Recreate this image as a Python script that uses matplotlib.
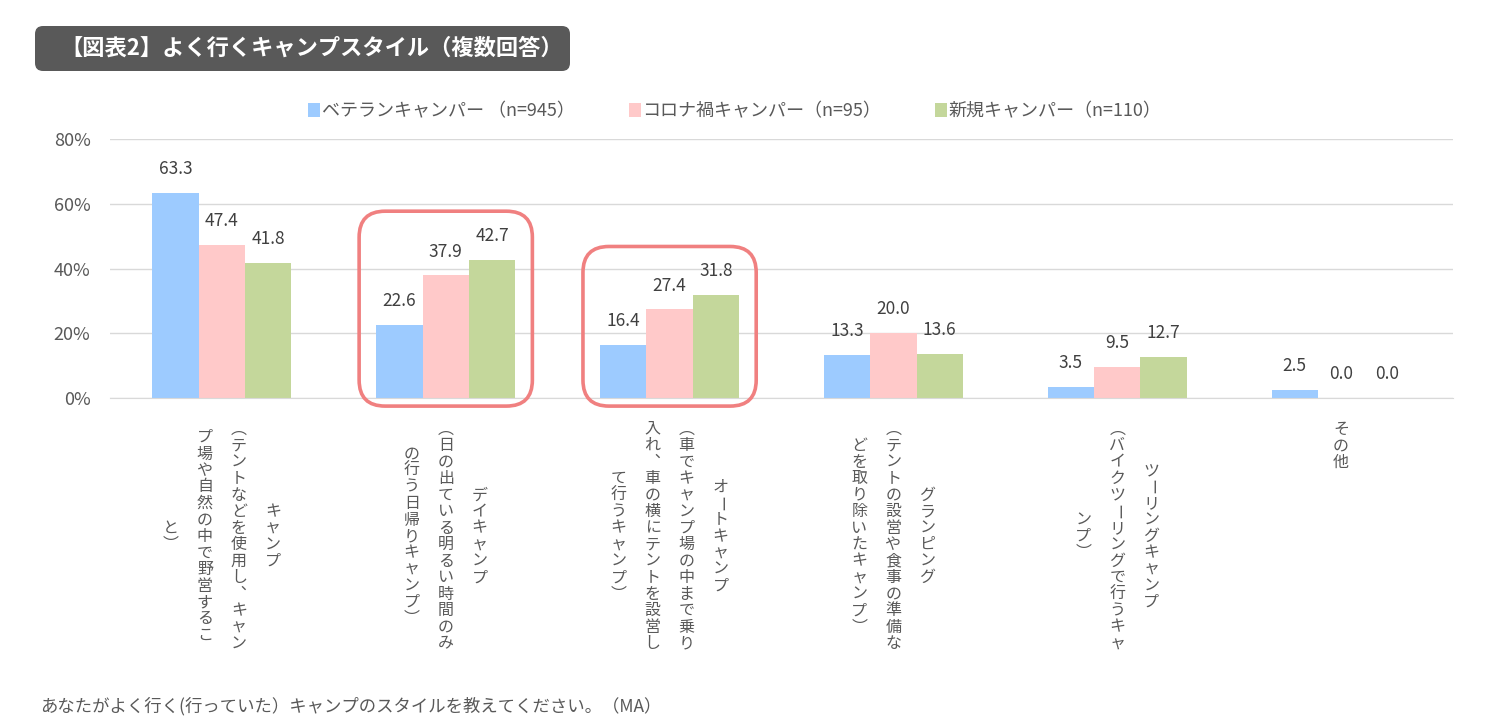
import numpy as np
import matplotlib.pyplot as plt
from matplotlib.patches import FancyBboxPatch
from matplotlib.transforms import IdentityTransform

plt.rcParams['font.family'] = ['Noto Sans CJK JP', 'DejaVu Sans']

# データ
categories = ['キャンプ', 'デイキャンプ', 'オートキャンプ', 'グランピング', 'ツーリングキャンプ', 'その他']
label_cols = [
    ['キャンプ', '（テントなどを使用し、キャン', 'プ場や自然の中で野営するこ', 'と）'],
    ['デイキャンプ', '（日の出ている明るい時間のみ', 'の行う日帰りキャンプ）'],
    ['オートキャンプ', '（車でキャンプ場の中まで乗り', '入れ、車の横にテントを設営し', 'て行うキャンプ）'],
    ['グランピング', '（テントの設営や食事の準備な', 'どを取り除いたキャンプ）'],
    ['ツーリングキャンプ', '（バイクツーリングで行うキャ', 'ンプ）'],
    ['その他'],
]
series_names = ['ベテランキャンパー （n=945）', 'コロナ禍キャンパー（n=95）', '新規キャンパー（n=110）']
veteran = [63.3, 22.6, 16.4, 13.3, 3.5, 2.5]
corona = [47.4, 37.9, 27.4, 20.0, 9.5, 0.0]
new = [41.8, 42.7, 31.8, 13.6, 12.7, 0.0]
highlight = [1, 2]
colors = ['#9DCBFF', '#FFC9C9', '#C4D79B']

# 縦書き用の字形
vert_map = {'（': '︵', '）': '︶', '、': '︑'}

W, H = 1487, 726
fig = plt.figure(figsize=(W / 100, H / 100), dpi=100)
ax = fig.add_axes([110 / W, (H - 398) / H, 1343 / W, 259 / H])

x = np.arange(len(categories))
bw = 0.207
for i, (vals, c, name) in enumerate(zip([veteran, corona, new], colors, series_names)):
    bars = ax.bar(x + (i - 1) * bw, vals, bw, color=c, label=name, zorder=2)
    for b, v in zip(bars, vals):
        ax.annotate(f'{v:.1f}', (b.get_x() + b.get_width() / 2, v), xytext=(0, 13.5),
                    textcoords='offset points', ha='center', va='baseline',
                    fontsize=12.5, color='#404040')

ax.set_xlim(-0.5, len(categories) - 0.5)
ax.set_ylim(0, 80)
ax.set_yticks([0, 20, 40, 60, 80])
ax.set_yticklabels([f'{t}%' for t in [0, 20, 40, 60, 80]])
ax.tick_params(axis='y', length=0, pad=14, labelsize=13, labelcolor='#595959')
ax.set_xticks([])
ax.yaxis.grid(True, color='#D9D9D9', lw=1)
ax.set_axisbelow(True)
for s in ['top', 'right', 'left']:
    ax.spines[s].set_visible(False)
ax.spines['bottom'].set_color('#D9D9D9')

# 強調枠
for h in highlight:
    top = max(veteran[h], corona[h], new[h]) + 15
    x0, y0 = ax.transData.transform((h - 0.387, -2.5))
    x1, y1 = ax.transData.transform((h + 0.387, top))
    box = FancyBboxPatch((x0, y0), x1 - x0, y1 - y0, boxstyle='round,pad=0,rounding_size=26',
                         transform=IdentityTransform(), fill=False, ec='#F08080', lw=2.6)
    fig.add_artist(box)

# 縦書きラベル
pitch = 16.5
top_px = 421
colsp = 34
for i, cols in enumerate(label_cols):
    cx = ax.transData.transform((i, 0))[0]
    n = len(cols)
    maxlen = max(len(c) for c in cols)
    for j, col in enumerate(cols):
        xx = cx + ((n - 1) / 2 - j) * colsp
        y0 = top_px + (maxlen - len(col)) * pitch / 2
        for k, ch in enumerate(col):
            yy = y0 + (k + 0.5) * pitch
            rot = -90 if ch == 'ー' else 0
            fig.text(xx, H - yy, vert_map.get(ch, ch), transform=IdentityTransform(),
                     ha='center', va='center', rotation=rot, fontsize=11.5, color='#595959')

# タイトル
tb = FancyBboxPatch((35, H - 71), 535, 45, boxstyle='round,pad=0,rounding_size=8',
                    transform=IdentityTransform(), fc='#595959', ec='none')
fig.add_artist(tb)
fig.text(60, H - 48.5, '【図表2】よく行くキャンプスタイル（複数回答）', transform=IdentityTransform(),
         ha='left', va='center', fontsize=16, fontweight='bold', color='white')

ax.legend(loc='center', bbox_to_anchor=(735 / W, (H - 111) / H), bbox_transform=fig.transFigure,
          ncol=3, frameon=False, fontsize=13, handlelength=0.65, handleheight=0.85,
          handletextpad=0.1, columnspacing=3.0, labelcolor='#595959')

fig.text(40 / W, (H - 706) / H, 'あなたがよく行く(行っていた）キャンプのスタイルを教えてください。（MA）',
         va='center', fontsize=12.5, color='#595959')

fig.savefig('out.png', dpi=100)
